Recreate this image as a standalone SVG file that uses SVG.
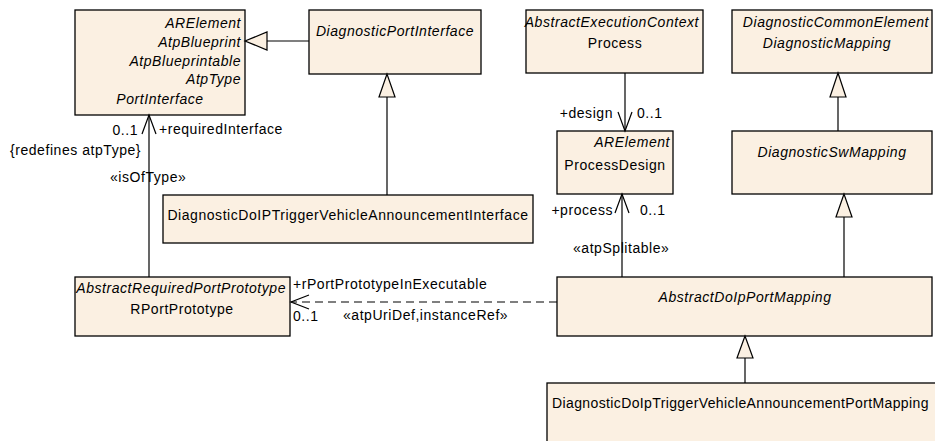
<svg xmlns="http://www.w3.org/2000/svg" width="935" height="441" viewBox="0 0 935 441">
<style>
.box{fill:#fbf0e2;stroke:#000;stroke-width:1.3}
text{font-family:"Liberation Sans",Arial,sans-serif;font-size:14px;letter-spacing:0.55px;fill:#000}
.i{font-style:italic}
.e{text-anchor:end}
.m{text-anchor:middle}
.ln{fill:none;stroke:#000;stroke-width:1.2}
.tri{fill:#fbf0e2;stroke:#000;stroke-width:1.2}
.dash{stroke-dasharray:8,5}
</style>
<rect width="935" height="441" fill="#fff"/>
<g id="PortInterface">
<rect class="box" x="75" y="10" width="170" height="105"/>
<text class="i e" x="241" y="28">ARElement</text>
<text class="i e" x="241" y="47">AtpBlueprint</text>
<text class="i e" x="241" y="66">AtpBlueprintable</text>
<text class="i e" x="241" y="84">AtpType</text>
<text class="i m" x="160" y="104">PortInterface</text>
</g>
<g id="DiagnosticPortInterface">
<rect class="box" x="309" y="10" width="172" height="64"/>
<text class="i m" x="395" y="36">DiagnosticPortInterface</text>
</g>
<g id="Process">
<rect class="box" x="526" y="10" width="177" height="63"/>
<text class="i e" x="699" y="27">AbstractExecutionContext</text>
<text class="m" x="615" y="48">Process</text>
</g>
<g id="DiagnosticMapping">
<rect class="box" x="732" y="10" width="200" height="63"/>
<text class="i e" x="929" y="27">DiagnosticCommonElement</text>
<text class="i m" x="827" y="48">DiagnosticMapping</text>
</g>
<g id="ProcessDesign">
<rect class="box" x="557" y="131" width="116" height="63"/>
<text class="i e" x="670" y="147">ARElement</text>
<text class="m" x="615" y="170">ProcessDesign</text>
</g>
<g id="DiagnosticSwMapping">
<rect class="box" x="732" y="131" width="200" height="63"/>
<text class="i m" x="832" y="157">DiagnosticSwMapping</text>
</g>
<g id="DiagnosticDoIPTriggerVehicleAnnouncementInterface">
<rect class="box" x="163" y="195" width="370" height="48"/>
<text class="m" x="348" y="220">DiagnosticDoIPTriggerVehicleAnnouncementInterface</text>
</g>
<g id="RPortPrototype">
<rect class="box" x="75" y="277" width="215" height="59"/>
<text class="i e" x="286" y="293">AbstractRequiredPortPrototype</text>
<text class="m" x="182" y="314">RPortPrototype</text>
</g>
<g id="AbstractDoIpPortMapping">
<rect class="box" x="557" y="277" width="375" height="59"/>
<text class="i m" x="745" y="302">AbstractDoIpPortMapping</text>
</g>
<g id="DiagnosticDoIpTriggerVehicleAnnouncementPortMapping">
<rect class="box" x="547" y="383" width="400" height="70"/>
<text x="552" y="408" style="letter-spacing:0.38px">DiagnosticDoIpTriggerVehicleAnnouncementPortMapping</text>
</g>
<g id="connectors">
<line class="ln" x1="309" y1="41" x2="267" y2="41"/>
<polygon class="tri" points="245,41 267,32 267,50"/>
<line class="ln" x1="387" y1="195" x2="387" y2="97"/>
<polygon class="tri" points="387,74 379,97 395,97"/>
<line class="ln" x1="149" y1="277" x2="149" y2="115"/>
<polyline class="ln" points="142,134 149,115 156,134"/>
<text class="e" x="138" y="135">0..1</text>
<text x="159" y="134">+requiredInterface</text>
<text x="10" y="155">{redefines atpType}</text>
<text x="110" y="182">«isOfType»</text>
<line class="ln" x1="625" y1="73" x2="625" y2="131"/>
<polyline class="ln" points="618,112 625,131 632,112"/>
<text class="e" x="613" y="118">+design</text>
<text x="637" y="118">0..1</text>
<line class="ln" x1="622" y1="277" x2="622" y2="194"/>
<polyline class="ln" points="615,213 622,194 629,213"/>
<text class="e" x="613" y="215">+process</text>
<text x="640" y="215">0..1</text>
<text x="573" y="253">«atpSplitable»</text>
<line class="ln" x1="838" y1="131" x2="838" y2="97"/>
<polygon class="tri" points="838,73 830,97 846,97"/>
<line class="ln" x1="844" y1="277" x2="844" y2="217"/>
<polygon class="tri" points="844,194 836,217 852,217"/>
<line class="ln" x1="745" y1="383" x2="745" y2="358"/>
<polygon class="tri" points="745,336 737,358 753,358"/>
<line class="ln dash" x1="557" y1="302" x2="291" y2="302"/>
<polyline class="ln" points="309,295 291,302 309,309"/>
<text x="293" y="289">+rPortPrototypeInExecutable</text>
<text x="293" y="321">0..1</text>
<text x="343" y="320">«atpUriDef,instanceRef»</text>
</g>
</svg>
